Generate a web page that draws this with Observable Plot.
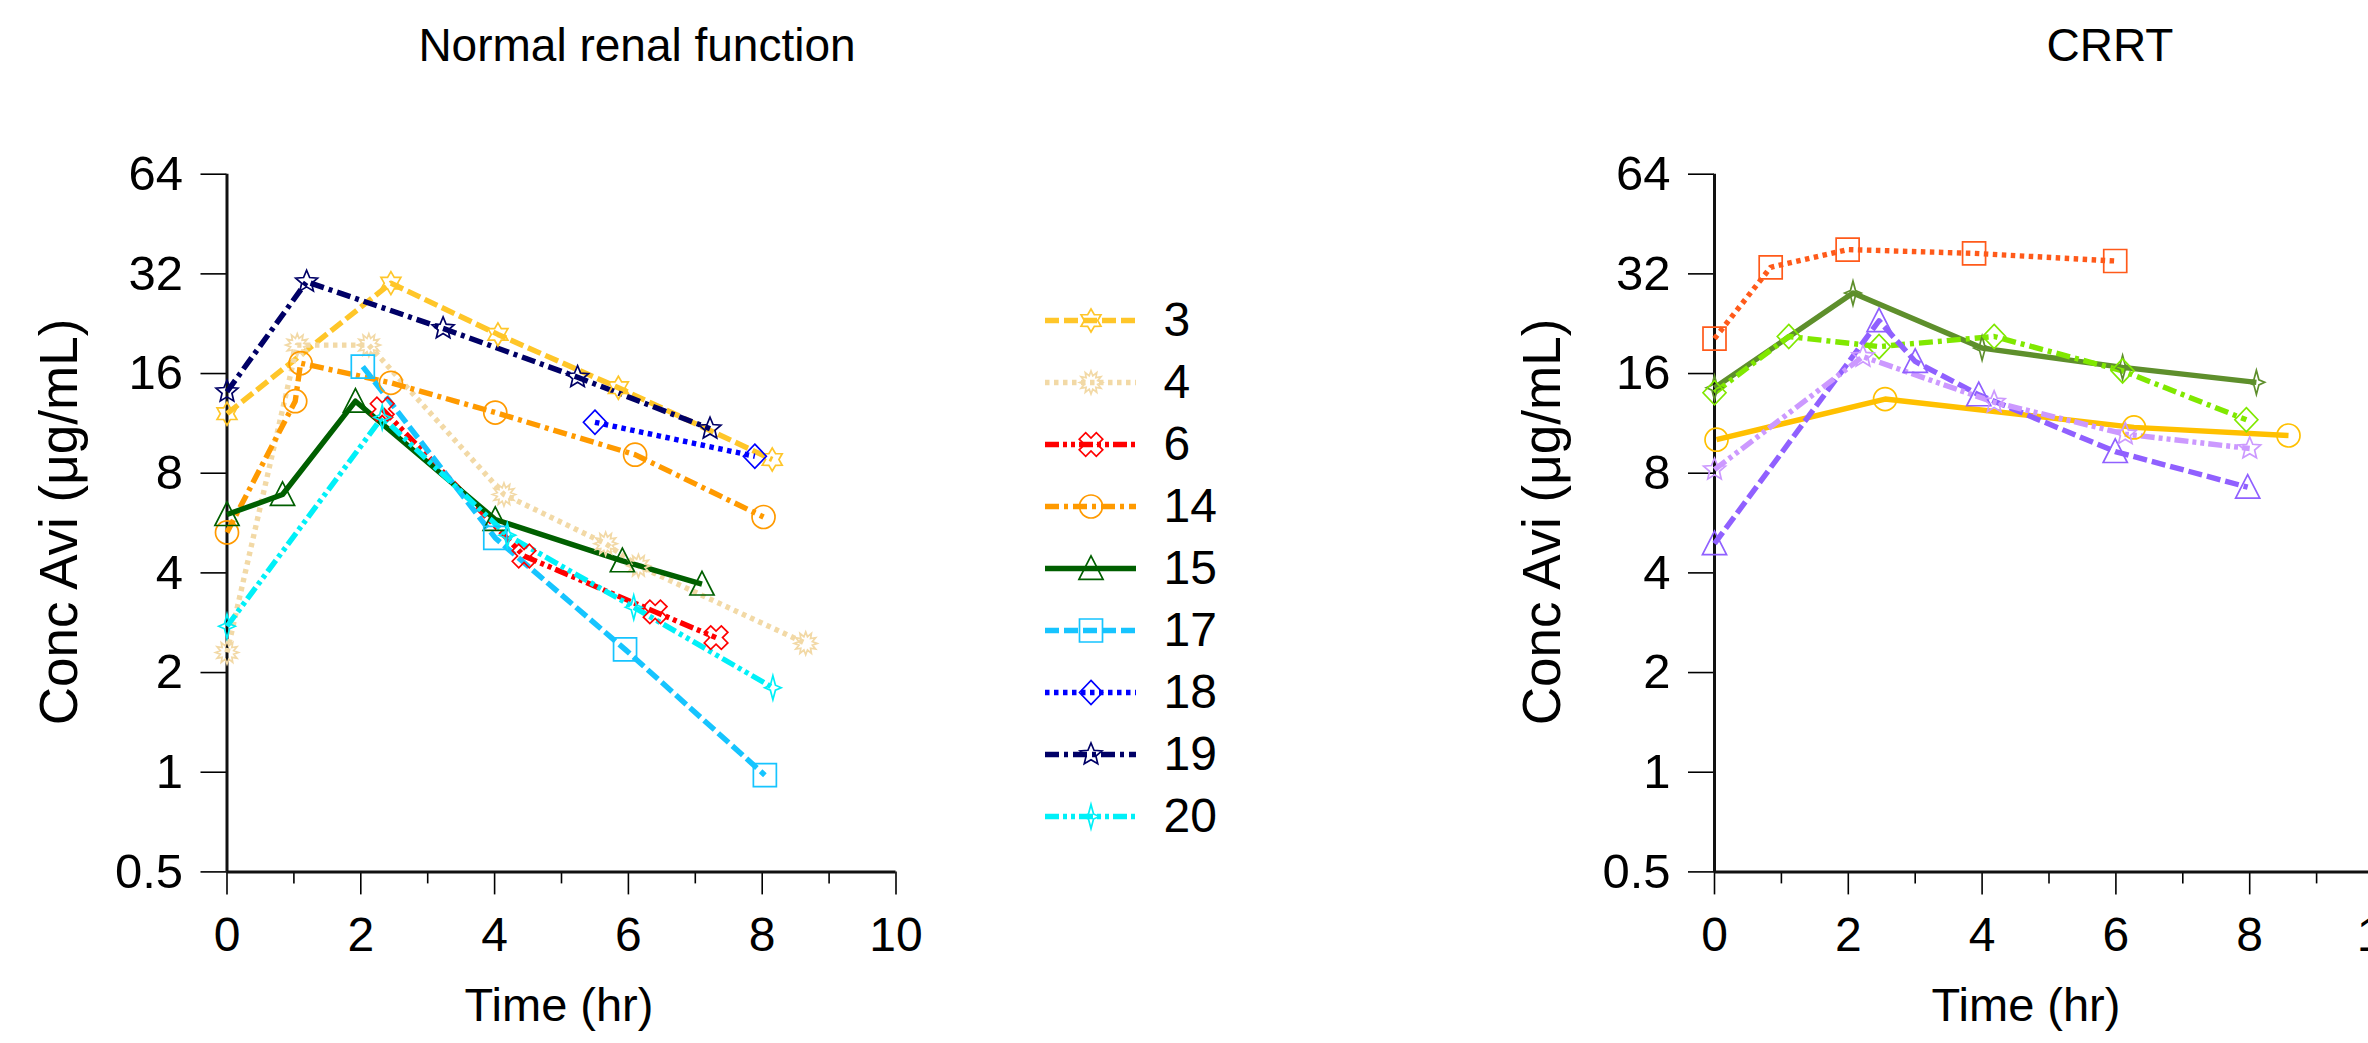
<!DOCTYPE html>
<html><head><meta charset="utf-8">
<script src="https://cdn.jsdelivr.net/npm/d3@7"></script>
<script src="https://cdn.jsdelivr.net/npm/@observablehq/plot@0.6"></script>
<style>
html,body{margin:0;padding:0;background:#fff;overflow:hidden;}
#wrap{position:relative;width:2368px;height:1043px;overflow:hidden;background:#fff;font-family:"Liberation Sans",Arial,sans-serif;color:#000;}
.panel{position:absolute;top:0;}
.txt{position:absolute;white-space:nowrap;transform:translate(-50%,-50%);line-height:1;color:#000;}
.rot{transform:translate(-50%,-50%) rotate(-90deg);}
</style></head><body><div id="wrap"></div>
<script>
// ---------- DATA ----------
const panelTitles = ["Normal renal function", "CRRT"];
const xAxisLabel = "Time (hr)";
const yAxisLabel = "Conc Avi (μg/mL)";
const xMajorTicks = [0, 2, 4, 6, 8, 10];
const xMinorTicks = [1, 3, 5, 7, 9];
const yTicks = [0.5, 1, 2, 4, 8, 16, 32, 64];
const yTickLabels = ["0.5", "1", "2", "4", "8", "16", "32", "64"];

// Normal renal function subjects
const normalSubjects = ["3", "4", "6", "14", "15", "17", "18", "19", "20"];
const s3_time  = [0, 2.45, 4.05, 5.85, 8.15];
const s3_conc  = [12.1, 30, 21, 14.5, 8.8];
const s4_time  = [0, 1.05, 2.12, 4.14, 5.66, 6.15, 8.65];
const s4_conc  = [2.3, 19.5, 19.5, 6.9, 4.9, 4.2, 2.45];
const s6_time  = [2.32, 4.44, 6.4, 7.31];
const s6_conc  = [12.5, 4.5, 3.05, 2.55];
const s14_time = [0, 1.02, 1.1, 2.45, 4.01, 6.1, 8.02];
const s14_conc = [5.3, 13.2, 17.2, 15.0, 12.2, 9.1, 5.9];
const s15_time = [0, 0.83, 1.92, 4.01, 5.91, 7.1];
const s15_conc = [6.0, 6.9, 13.2, 5.8, 4.35, 3.7];
const s17_time = [2.03, 4.01, 5.95, 8.04];
const s17_conc = [16.8, 5.1, 2.35, 0.98];
const s18_time = [5.5, 7.89];
const s18_conc = [11.4, 9.0];
const s19_time = [0, 1.19, 3.23, 5.24, 7.22];
const s19_conc = [14.1, 30.3, 21.9, 15.6, 10.9];
const s20_time = [0, 2.32, 4.19, 6.08, 8.16];
const s20_conc = [2.76, 11.8, 5.2, 3.15, 1.8];

// CRRT subjects (no legend in the picture)
const crrtSubjects = ["A", "B", "C", "D", "E", "F"];
const cA_time = [0, 0.84, 1.99, 3.88, 5.99];
const cA_conc = [20.4, 33.5, 37.9, 36.9, 35.0];
const cB_time = [0, 2.07, 4.0, 6.1, 8.1];
const cB_conc = [14.5, 28.0, 19.1, 16.7, 15.05];
const cC_time = [0, 1.11, 2.46, 4.18, 6.1, 7.95];
const cC_conc = [14.0, 20.7, 19.3, 20.7, 16.3, 11.6];
const cD_time = [0.03, 2.55, 6.27, 8.58];
const cD_conc = [10.1, 13.4, 11.0, 10.4];
const cE_time = [0, 2.46, 3.0, 3.95, 5.99, 7.97];
const cE_conc = [4.9, 23.1, 17.4, 13.8, 9.3, 7.26];
const cF_time = [0, 2.22, 4.18, 6.14, 8.0];
const cF_conc = [8.2, 18.0, 13.1, 10.5, 9.5];

// ---------- SYMBOLS ----------
function starSym(n, inner) {
  return {draw(ctx, size) {
    const r = Math.sqrt(size / Math.PI);
    for (let i = 0; i < 2 * n; i++) {
      const a = -Math.PI / 2 + i * Math.PI / n;
      const rr = i % 2 ? r * inner : r;
      const x = rr * Math.cos(a), y = rr * Math.sin(a);
      if (i) ctx.lineTo(x, y); else ctx.moveTo(x, y);
    }
    ctx.closePath();
  }};
}
function polySym(pts) {
  return {draw(ctx, size) {
    const r = Math.sqrt(size / Math.PI);
    pts.forEach(([x, y], i) => i ? ctx.lineTo(x * r, y * r) : ctx.moveTo(x * r, y * r));
    ctx.closePath();
  }};
}
const c45 = Math.SQRT1_2;
const plusPts = [[0.38,-1],[0.38,-0.38],[1,-0.38],[1,0.38],[0.38,0.38],[0.38,1],[-0.38,1],[-0.38,0.38],[-1,0.38],[-1,-0.38],[-0.38,-0.38],[-0.38,-1]];
const SYM = {
  hexagram: starSym(6, 0.58),
  sunburst: starSym(12, 0.6),
  star5: starSym(5, 0.45),
  star4: polySym([[0,-1.05],[0.22,-0.22],[0.72,0],[0.22,0.22],[0,1.05],[-0.22,0.22],[-0.72,0],[-0.22,-0.22]]),
  circle: d3.symbolCircle,
  square: polySym([[-1,-1],[1,-1],[1,1],[-1,1]]),
  triangle: polySym([[0,-1.1],[1.05,0.95],[-1.05,0.95]]),
  diamond: polySym([[0,-1.05],[1,0],[0,1.05],[-1,0]]),
  xcross: polySym(plusPts.map(([x, y]) => [(x - y) * c45 * 1.05, (x + y) * c45 * 1.05]))
};
const DASH = {
  solid: null,
  dashed: "14,5",
  dotted: "4.5,4.5",
  dashdot: "14,5,4,5",
  dashdotdot: "14,4,4,4,4,4"
};

const normalStyle = {
  "3":  {color: "#FFC629", dash: "dashed", sym: "hexagram"},
  "4":  {color: "#F2D9A6", dash: "dotted", sym: "sunburst"},
  "6":  {color: "#FF0000", dash: "dashdotdot", sym: "xcross"},
  "14": {color: "#FF9A00", dash: "dashdot", sym: "circle"},
  "15": {color: "#005F00", dash: "solid", sym: "triangle"},
  "17": {color: "#16C4FF", dash: "dashed", sym: "square"},
  "18": {color: "#0000FF", dash: "dotted", sym: "diamond"},
  "19": {color: "#000066", dash: "dashdot", sym: "star5"},
  "20": {color: "#00F0F8", dash: "dashdotdot", sym: "star4"}
};
const crrtStyle = {
  "A": {color: "#FF5A1A", dash: "dotted", sym: "square"},
  "B": {color: "#5E8F2C", dash: "solid", sym: "star4"},
  "C": {color: "#80E800", dash: "dashdot", sym: "diamond"},
  "D": {color: "#FFC000", dash: "solid", sym: "circle"},
  "E": {color: "#9060FF", dash: "dashed", sym: "triangle"},
  "F": {color: "#CC99FF", dash: "dashdotdot", sym: "star5"}
};
const normalData = {
  "3": [s3_time, s3_conc], "4": [s4_time, s4_conc], "6": [s6_time, s6_conc],
  "14": [s14_time, s14_conc], "15": [s15_time, s15_conc], "17": [s17_time, s17_conc],
  "18": [s18_time, s18_conc], "19": [s19_time, s19_conc], "20": [s20_time, s20_conc]
};
const crrtData = {
  "A": [cA_time, cA_conc], "B": [cB_time, cB_conc], "C": [cC_time, cC_conc],
  "D": [cD_time, cD_conc], "E": [cE_time, cE_conc], "F": [cF_time, cF_conc]
};

// ---------- LAYOUT ----------
const H = 1043, MT = 173.7, MB = 171.6, FRAME_W = 669;
const wrap = document.getElementById("wrap");
const FONT = "Liberation Sans, Arial, sans-serif";

function rows(times, concs) { return times.map((t, i) => ({t, c: concs[i]})); }

function panel(subjects, dataMap, styleMap, left, width, marginLeft) {
  const lineMarks = [], dotMarks = [];
  for (const s of subjects) {
    const st = styleMap[s];
    const d = rows(...dataMap[s]);
    lineMarks.push(Plot.line(d, {x: "t", y: "c", stroke: st.color, strokeWidth: 5.4,
      strokeDasharray: DASH[st.dash], strokeLinecap: "butt", strokeLinejoin: "round"}));
    dotMarks.push(Plot.dot(d, {x: "t", y: "c", r: 11.5, symbol: SYM[st.sym], stroke: st.color,
      fill: "none", strokeWidth: 1.7}));
  }
  const svg = Plot.plot({
    width, height: H, marginTop: MT, marginBottom: MB, marginLeft,
    marginRight: width - marginLeft - FRAME_W,
    style: {fontFamily: FONT, color: "#000", background: "transparent", overflow: "visible"},
    x: {domain: [0, 10]},
    y: {type: "log", base: 2, domain: [0.5, 64]},
    marks: [
      Plot.axisY({ticks: yTicks, tickFormat: d => yTickLabels[yTicks.indexOf(d)], tickSize: 26,
        tickPadding: 18, fontSize: 49, label: null, strokeWidth: 1.6}),
      Plot.axisX({ticks: xMajorTicks, tickSize: 23, tickPadding: 22, fontSize: 48, label: null, strokeWidth: 1.6}),
      Plot.axisX({ticks: xMinorTicks, tickSize: 12, tickFormat: () => "", label: null, strokeWidth: 1.6}),
      Plot.ruleX([0], {stroke: "#111", strokeWidth: 3}),
      Plot.ruleY([0.5], {stroke: "#111", strokeWidth: 3}),
      ...lineMarks,
      ...dotMarks
    ]
  });
  svg.classList.add("panel");
  svg.style.left = left + "px";
  wrap.appendChild(svg);
}

panel(normalSubjects, normalData, normalStyle, 0, 960, 226.5);
panel(crrtSubjects, crrtData, crrtStyle, 1500, 900, 214);

// Legend for the normal renal function panel
(function legend() {
  const left = 1045, lineW = 91, width = 260;
  const marks = [];
  for (const s of normalSubjects) {
    const st = normalStyle[s];
    marks.push(Plot.ruleY([s], {y: d => d, stroke: st.color, strokeWidth: 5.4,
      strokeDasharray: DASH[st.dash], strokeLinecap: "butt"}));
    marks.push(Plot.dot([s], {y: d => d, frameAnchor: "middle", r: 11.5, symbol: SYM[st.sym],
      stroke: st.color, fill: "none", strokeWidth: 1.7}));
  }
  marks.push(Plot.axisY({anchor: "right", tickSize: 0, tickPadding: 27, fontSize: 48, label: null}));
  const svg = Plot.plot({
    width, height: H, marginTop: 317, marginBottom: H - 818, marginLeft: 0, marginRight: width - lineW,
    style: {fontFamily: FONT, color: "#000", background: "transparent", overflow: "visible"},
    x: {domain: [0, 1], axis: null},
    y: {type: "point", domain: normalSubjects, padding: 0, axis: null},
    marks
  });
  svg.classList.add("panel");
  svg.style.left = left + "px";
  wrap.appendChild(svg);
})();

// Titles and axis labels
function addText(txt, cx, cy, size, rot) {
  const el = document.createElement("div");
  el.className = "txt" + (rot ? " rot" : "");
  el.textContent = txt;
  el.style.left = cx + "px";
  el.style.top = cy + "px";
  el.style.fontSize = size + "px";
  wrap.appendChild(el);
}
addText(panelTitles[0], 637, 45, 46);
addText(panelTitles[1], 2110, 45, 46);
addText(xAxisLabel, 559, 1004, 47);
addText(xAxisLabel, 2026, 1004, 47);
addText(yAxisLabel, 58, 522, 53, true);
addText(yAxisLabel, 1541, 522, 53, true);
</script></body></html>
